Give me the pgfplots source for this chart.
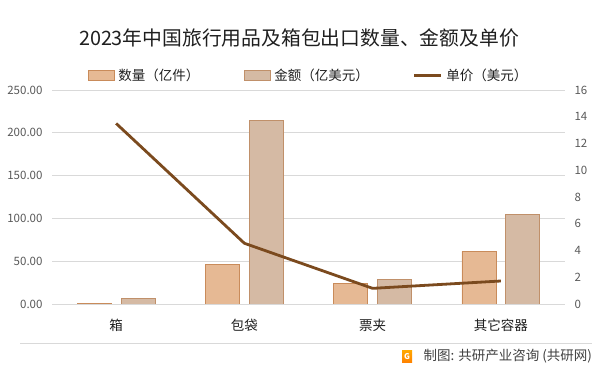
\documentclass[border=0pt]{standalone}
\usepackage{pgfplots}
\pgfplotsset{compat=1.18}
\usepackage{fontspec}
\setmainfont{Noto Sans CJK SC}
\definecolor{qty}{HTML}{E6B994}
\definecolor{qtyedge}{HTML}{C98B5A}
\definecolor{amt}{HTML}{D5BAA4}
\definecolor{amtedge}{HTML}{C0906A}
\definecolor{price}{HTML}{7B4A1E}
\definecolor{gridc}{HTML}{D9D9D9}
\definecolor{tickc}{HTML}{595959}
\begin{document}
\begin{tikzpicture}
\useasboundingbox (0pt,0pt) rectangle (601pt,374pt);
\node[font=\fontsize{19.8}{22}\selectfont, text=black!88] at (299pt,336pt) {2023年中国旅行用品及箱包出口数量、金额及单价};
\begin{axis}[
  at={(52pt,70pt)}, anchor=south west,
  scale only axis, width=513pt, height=214pt,
  xmin=-0.5, xmax=3.5, ymin=0, ymax=250,
  xtick={0,1,2,3}, xticklabels={箱,包袋,票夹,其它容器},
  ytick={0,50,100,150,200,250},
  yticklabel={\pgfmathprintnumber[fixed,fixed zerofill,precision=2]{\tick}},
  /pgf/number format/assume math mode=true,
  ymajorgrids, grid style={gridc, line width=0.8pt},
  axis y line*=left, axis x line*=bottom,
  y axis line style={draw=none},
  x axis line style={gridc, line width=0.8pt},
  major tick length=0pt,
  tick label style={font=\fontsize{11.5}{13}\selectfont, text=tickc},
  xticklabel style={font=\fontsize{13.5}{15}\selectfont, text=black!88, yshift=-12pt},
  yticklabel style={xshift=-6pt},
  legend columns=3,
  legend style={at={(0.5,1)}, anchor=south, yshift=4pt, draw=none, fill=none,
    font=\fontsize{13.5}{15}\selectfont, text=black!88,
    /tikz/every odd column/.append style={column sep=2pt},
    /tikz/every even column/.append style={column sep=42pt}},
  legend image code/.code={\draw[#1] (0pt,-5pt) rectangle (26pt,5pt);},
]
\addplot[ybar, bar width=0.265, bar shift=-0.171, fill=qty, draw=qtyedge, line width=0.8pt]
  coordinates {(0,0.5) (1,46.7) (2,24.5) (3,61.5)};
\addlegendentry{数量（亿件）}
\addplot[ybar, bar width=0.265, bar shift=0.171, fill=amt, draw=amtedge, line width=0.8pt]
  coordinates {(0,6.7) (1,214.6) (2,29.0) (3,104.8)};
\addlegendentry{金额（亿美元）}
\addlegendimage{line legend, price, line width=2.5pt, legend image code/.code={\draw[price, line width=2.5pt] (0pt,0pt) -- (27pt,0pt);}}
\addlegendentry{单价（美元）}
\end{axis}
\begin{axis}[
  at={(52pt,70pt)}, anchor=south west,
  scale only axis, width=513pt, height=214pt,
  xmin=-0.5, xmax=3.5, ymin=0, ymax=16,
  ytick={0,2,...,16},
  axis y line*=right, axis x line=none,
  y axis line style={draw=none},
  major tick length=0pt,
  /pgf/number format/assume math mode=true,
  tick label style={font=\fontsize{11.5}{13}\selectfont, text=tickc},
  yticklabel style={xshift=6pt},
]
\addplot[price, line width=2.8pt, line join=round] coordinates {(0,13.5) (1,4.54) (2,1.17) (3,1.72)};
\end{axis}
\draw[gridc, line width=0.8pt] (20pt,31pt) -- (592pt,31pt);
\shade[top color=orange!70!yellow, bottom color=orange] (402pt,11pt) rectangle (412pt,23pt);
\node[font=\bfseries\fontsize{8}{8}\selectfont, text=white] at (407pt,17pt) {G};
\node[font=\fontsize{13.5}{15}\selectfont, text=black!75, anchor=west] at (420pt,18pt) {制图: 共研产业咨询 (共研网)};
\end{tikzpicture}
\end{document}
